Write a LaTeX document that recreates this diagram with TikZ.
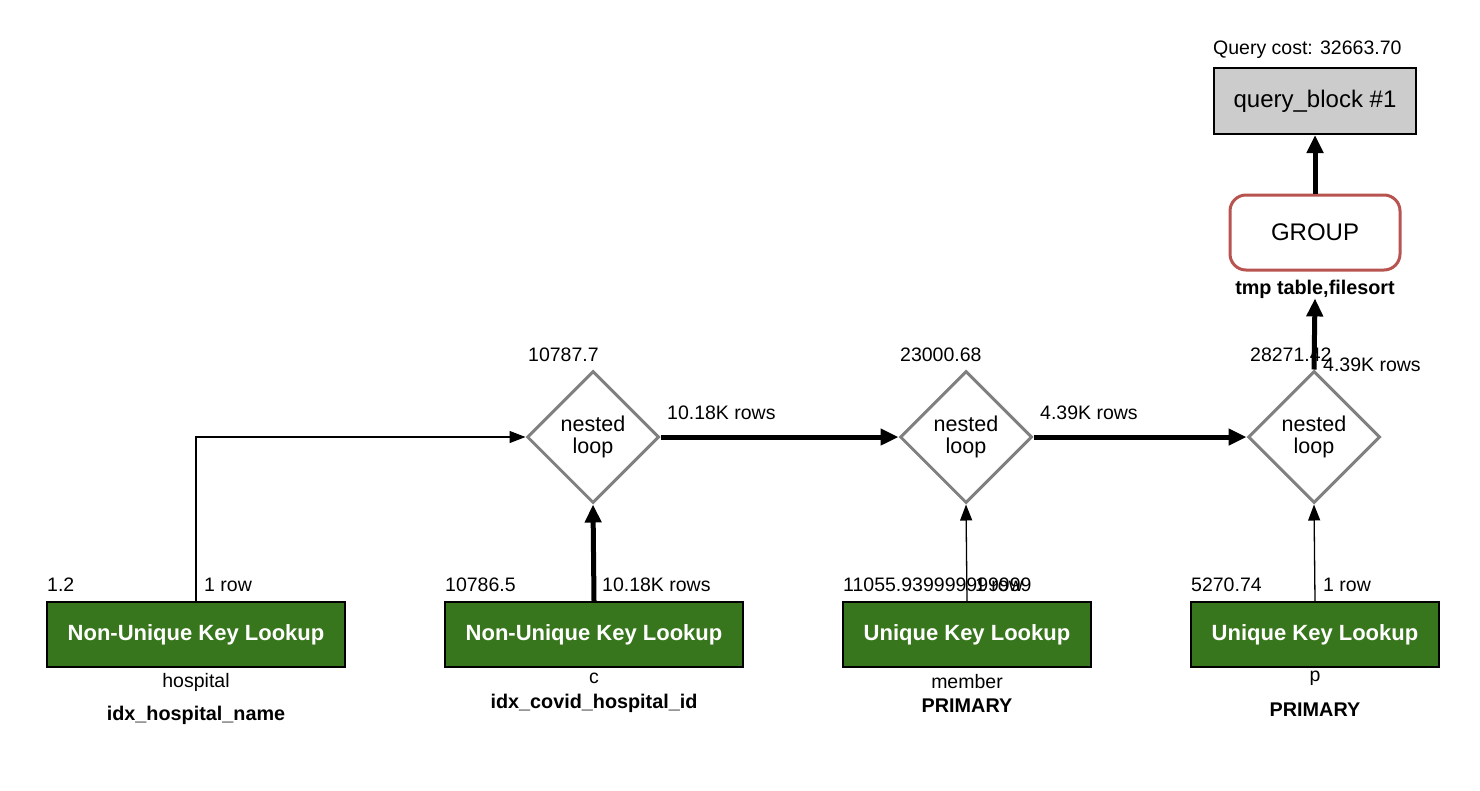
\documentclass[tikz,border=0pt]{standalone}
\usepackage{fontspec}
\setmainfont{Liberation Sans}
\usetikzlibrary{shapes.geometric,arrows.meta}
\definecolor{lookupgreen}{RGB}{56,118,29}
\definecolor{groupred}{RGB}{184,84,80}
\definecolor{qbgray}{RGB}{204,204,204}
\definecolor{loopgray}{RGB}{128,128,128}
\begin{document}
\begin{tikzpicture}[x=1pt,y=-1pt,
  lbl/.style={inner sep=0pt,font=\fontsize{19.5}{22}\selectfont},
  blbl/.style={inner sep=0pt,font=\fontsize{19.8}{22}\selectfont\bfseries},
  lookup/.style={draw=black,line width=2pt,fill=lookupgreen,text=white,
    font=\fontsize{22}{24}\selectfont\bfseries,minimum height=65pt,inner sep=0pt},
  loop/.style={diamond,draw=loopgray,line width=3pt,fill=white,minimum width=132pt,
    minimum height=132pt,inner sep=0pt,align=center,font=\fontsize{21.5}{22}\selectfont},
  thinarrow/.style={line width=1.3pt,-{Triangle[length=16pt,width=12pt]}},
  thickarrow/.style={line width=5pt,-{Triangle[length=18pt,width=16pt]}}]
\useasboundingbox (0,0) rectangle (1480,790);
% top
\node[draw=black,line width=2pt,fill=qbgray,minimum width=202pt,minimum height=66pt,
  font=\fontsize{24}{26}\selectfont] (qb) at (1315,101) {query\_block \#1};
\node[lbl,anchor=west] (qc) at (1213,50) {Query cost: 32663.70};
\node[draw=groupred,line width=3pt,rounded corners=16pt,fill=white,minimum width=170pt,
  minimum height=75pt,font=\fontsize{24}{26}\selectfont] (grp) at (1315,232.5) {GROUP};
\node[blbl] (tmp) at (1315,289) {tmp table,filesort};
% diamonds
\node[loop] (d1) at (593,437) {nested\\loop};
\node[loop] (d2) at (966,437) {nested\\loop};
\node[loop] (d3) at (1314,437) {nested\\loop};
\node[lbl,anchor=west] (c1) at (528,355) {10787.7};
\node[lbl,anchor=west] (c2) at (900,355) {23000.68};
% lookups
\node[lookup,minimum width=298pt] (b1) at (196,634.5) {Non-Unique Key Lookup};
\node[lookup,minimum width=298pt] (b2) at (594,634.5) {Non-Unique Key Lookup};
\node[lookup,minimum width=248pt] (b3) at (967,634.5) {Unique Key Lookup};
\node[lookup,minimum width=248pt] (b4) at (1315,634.5) {Unique Key Lookup};
% labels under boxes
\node[lbl] (t1) at (196,682) {hospital};
\node[blbl] (k1) at (196,715) {idx\_hospital\_name};
\node[lbl] (t2) at (594,678) {c};
\node[blbl] (k2) at (594,703) {idx\_covid\_hospital\_id};
\node[lbl] (t3) at (967,682) {member};
\node[blbl] (k3) at (967,706) {PRIMARY};
\node[lbl] (t4) at (1315,678) {p};
\node[blbl] (k4) at (1315,710) {PRIMARY};
% connectors
\draw[thinarrow] (b1.north) |- (d1.west);
\draw[thickarrow] (b2.north) -- (d1.south);
\draw[thinarrow] (b3.north) -- (d2.south);
\draw[thinarrow] (b4.north) -- (d3.south);
\draw[thickarrow] (d1.east) -- (d2.west);
\draw[thickarrow] (d2.east) -- (d3.west);
\draw[thickarrow] (d3.north) -- (tmp.south);
\draw[thickarrow] (grp.north) -- (qb.south);
% cost and row labels
\node[lbl,anchor=west] (bc1) at (47,585) {1.2};
\node[lbl,anchor=west] (bc2) at (445,585) {10786.5};
\node[lbl,anchor=west] (bc3) at (843,585) {11055.939999999999};
\node[lbl,anchor=west] (bc4) at (1191,585) {5270.74};
\node[lbl,anchor=west] (r1) at (204,585) {1 row};
\node[lbl,anchor=west] (r2) at (602,585) {10.18K rows};
\node[lbl,anchor=west] (r3) at (975,585) {1 row};
\node[lbl,anchor=west] (r4) at (1323,585) {1 row};
\node[lbl,anchor=west] (e1) at (667,413) {10.18K rows};
\node[lbl,anchor=west] (e2) at (1040,413) {4.39K rows};
\node[lbl,anchor=west] (c3) at (1250,355) {28271.42};
\node[lbl,anchor=west] (e3) at (1323,365) {4.39K rows};
\end{tikzpicture}
\end{document}
